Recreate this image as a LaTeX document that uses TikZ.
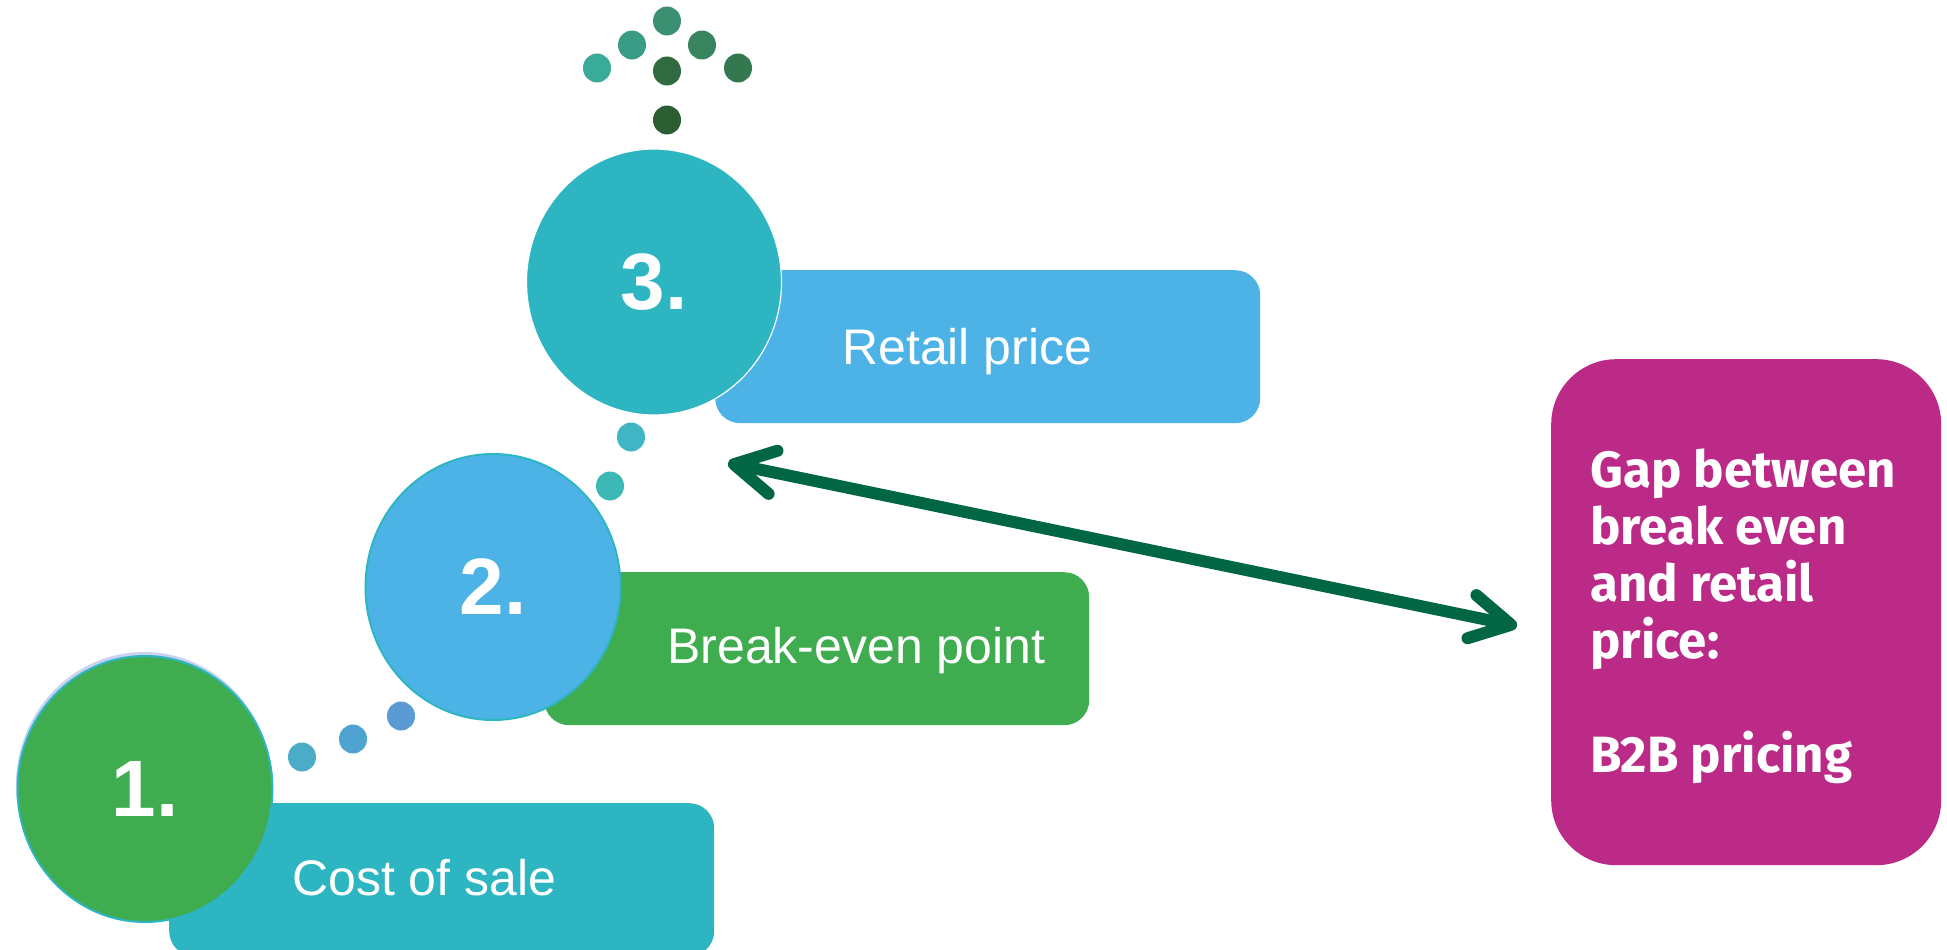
\documentclass[tikz,border=0pt]{standalone}
\usepackage{fontspec}
\setmainfont{Liberation Sans}
\newfontfamily\chalkfont{Fira Sans}
\usetikzlibrary{shapes.geometric,arrows.meta}

\definecolor{tealfill}{HTML}{2DB6C1}
\definecolor{bluefill}{HTML}{4DB3E6}
\definecolor{greenfill}{HTML}{3FAC4F}
\definecolor{magentafill}{HTML}{BB2A87}
\definecolor{arrowgreen}{HTML}{006644}
\definecolor{haze}{HTML}{C9D2EE}
% dot colours
\definecolor{dA}{HTML}{3AAA99}
\definecolor{dB}{HTML}{3A9C85}
\definecolor{dC}{HTML}{3A9071}
\definecolor{dD}{HTML}{38845E}
\definecolor{dE}{HTML}{33784E}
\definecolor{dF}{HTML}{306B40}
\definecolor{dG}{HTML}{2D5E33}
\definecolor{dH}{HTML}{4BACC8}
\definecolor{dI}{HTML}{4EA3D0}
\definecolor{dJ}{HTML}{5B9BD5}
\definecolor{dK}{HTML}{3CB8B6}
\definecolor{dL}{HTML}{40B6C4}

\begin{document}
\begin{tikzpicture}[x=1pt,y=-1pt,
  bubble/.style={ellipse, minimum width=255pt, minimum height=266pt, inner sep=0pt,
    line width=2pt, text=white, font=\fontsize{80}{80}\selectfont\bfseries},
  bar/.style={rectangle, rounded corners=25pt, minimum width=545pt, minimum height=153pt,
    anchor=north west, inner sep=0pt},
  bartext/.style={anchor=base west, text=white, inner sep=0pt,
    font=\fontsize{50}{60}\selectfont},
  gapbox/.style={rectangle, rounded corners=65pt, fill=magentafill, anchor=north west,
    minimum width=390pt, minimum height=506pt, inner sep=0pt},
  gaptext/.style={anchor=north west, text=white, inner sep=0pt, align=left,
    font=\chalkfont\bfseries\fontsize{51}{57}\selectfont},
  barb/.tip={Straight Barb[length=40pt,width=44pt,round,line width=12pt]},
  twoway/.style={draw=arrowgreen, line width=12pt, barb-barb}
]
\useasboundingbox (0,0) rectangle (1947,950);
\clip (0,0) rectangle (1947,950);

% coloured bars behind the numbered bubbles
\node[bar, fill=bluefill]  (bar3) at (715,270) {};
\node[bar, fill=greenfill] (bar2) at (544,572) {};
\node[bar, fill=tealfill]  (bar1) at (169,803) {};

\node[bartext] (lab3) at (842,364) {Retail price};
\node[bartext] (lab2) at (667,663) {Break-even point};
\node[bartext] (lab1) at (292,895) {Cost of sale};

% numbered bubbles
\fill[haze] (144,785) ellipse [x radius=128pt, y radius=133pt];
\node[bubble, fill=greenfill, draw=tealfill] (c1) at (145,789) {1.};
\node[bubble, fill=bluefill, draw=tealfill]  (c2) at (493,587) {2.};
\node[bubble, fill=tealfill, draw=white, line width=1.2pt] (c3) at (654,282) {3.};

% dotted trails between the bubbles
\fill[dH] (302,757) ellipse [x radius=14pt, y radius=14.5pt];
\fill[dI] (353,739) ellipse [x radius=14pt, y radius=14.5pt];
\fill[dJ] (401,716) ellipse [x radius=14pt, y radius=14.5pt];
\fill[dK] (610,486) ellipse [x radius=14pt, y radius=14.5pt];
\fill[dL] (631,437) ellipse [x radius=14pt, y radius=14.5pt];

% fountain of dots above the top bubble
\fill[dA] (597,68)  ellipse [x radius=14pt, y radius=14.5pt];
\fill[dB] (632,45)  ellipse [x radius=14pt, y radius=14.5pt];
\fill[dC] (667,21)  ellipse [x radius=14pt, y radius=14.5pt];
\fill[dD] (702,45)  ellipse [x radius=14pt, y radius=14.5pt];
\fill[dE] (738,68)  ellipse [x radius=14pt, y radius=14.5pt];
\fill[dF] (667,71)  ellipse [x radius=14pt, y radius=14.5pt];
\fill[dG] (667,120) ellipse [x radius=14pt, y radius=14.5pt];

% the gap panel
\node[gapbox] (gap) at (1551,359) {};
\node[gaptext] (gaplab) at (1590,449) {Gap between\\break even\\and retail\\price:\\[57pt]B2B pricing};

% two-way arrow between retail price and the gap panel
\coordinate (gapL) at (728,463);
\coordinate (gapR) at (1517,626);
\draw[twoway] (gapL) -- (gapR);
\end{tikzpicture}
\end{document}
